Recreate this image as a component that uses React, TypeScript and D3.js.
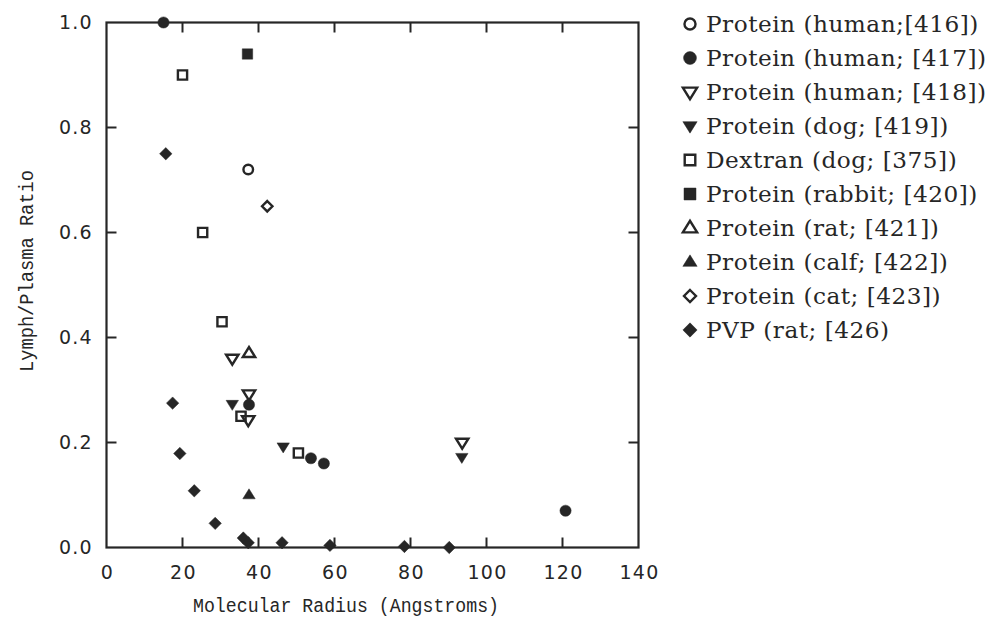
import React from "react";
import * as d3 from "d3";

// ---- data (molecular radius in Å, lymph/plasma ratio) ----
const human416X = [37.3];
const human416Y = [0.72];
const human417X = [15.0, 37.5, 53.8, 57.2, 120.8];
const human417Y = [1.0, 0.272, 0.17, 0.16, 0.07];
const human418X = [33.1, 37.5, 37.3, 93.6];
const human418Y = [0.36, 0.292, 0.243, 0.2];
const dog419X = [33.1, 46.5, 93.5];
const dog419Y = [0.273, 0.192, 0.172];
const dextran375X = [20.0, 25.3, 30.4, 35.4, 50.5];
const dextran375Y = [0.9, 0.6, 0.43, 0.25, 0.18];
const rabbit420X = [37.1];
const rabbit420Y = [0.94];
const rat421X = [37.5];
const rat421Y = [0.37];
const calf422X = [37.5];
const calf422Y = [0.1];
const cat423X = [42.3];
const cat423Y = [0.65];
const pvp426X = [15.6, 17.4, 19.3, 23.1, 28.6, 36.0, 37.3, 46.2, 58.8, 78.4, 90.2];
const pvp426Y = [0.75, 0.275, 0.179, 0.108, 0.046, 0.018, 0.009, 0.009, 0.004, 0.002, 0.0];

const legendLabels = [
  "Protein (human;[416])",
  "Protein (human; [417])",
  "Protein (human; [418])",
  "Protein (dog; [419])",
  "Dextran (dog; [375])",
  "Protein (rabbit; [420])",
  "Protein (rat; [421])",
  "Protein (calf; [422])",
  "Protein (cat; [423])",
  "PVP (rat; [426)",
];

const xTicks = [0, 20, 40, 60, 80, 100, 120, 140];
const yTicks = [0.0, 0.2, 0.4, 0.6, 0.8, 1.0];

type Kind = "circleO" | "circleF" | "triDownO" | "triDownF" | "squareO" | "squareF" | "triUpO" | "triUpF" | "diamondO" | "diamondF";

const series: { kind: Kind; xs: number[]; ys: number[] }[] = [
  { kind: "circleO", xs: human416X, ys: human416Y },
  { kind: "circleF", xs: human417X, ys: human417Y },
  { kind: "triDownO", xs: human418X, ys: human418Y },
  { kind: "triDownF", xs: dog419X, ys: dog419Y },
  { kind: "squareO", xs: dextran375X, ys: dextran375Y },
  { kind: "squareF", xs: rabbit420X, ys: rabbit420Y },
  { kind: "triUpO", xs: rat421X, ys: rat421Y },
  { kind: "triUpF", xs: calf422X, ys: calf422Y },
  { kind: "diamondO", xs: cat423X, ys: cat423Y },
  { kind: "diamondF", xs: pvp426X, ys: pvp426Y },
];

const INK = "#262626";

function Marker({ kind, x, y, s = 1 }: { kind: Kind; x: number; y: number; s?: number }) {
  const open = kind.endsWith("O");
  const fill = open ? "none" : INK;
  const stroke = INK;
  const sw = open ? 2.4 : 0.5;
  let d = "";
  if (kind.startsWith("circle")) {
    const r = (open ? 4.8 : 5.6) * s;
    return <circle cx={x} cy={y} r={r} fill={fill} stroke={stroke} strokeWidth={sw} />;
  } else if (kind.startsWith("square")) {
    const h = (open ? 4.6 : 5.2) * s;
    d = `M${-h},${-h}L${h},${-h}L${h},${h}L${-h},${h}Z`;
  } else if (kind === "triDownO" || kind === "triDownF") {
    const w = 6.2 * s, h1 = 3.8 * s, h2 = 6.2 * s;
    d = `M${-w},${-h1}L${w},${-h1}L0,${h2}Z`;
  } else if (kind.startsWith("triUp")) {
    const w = 6.2 * s, h1 = 3.8 * s, h2 = 6.2 * s;
    d = `M${-w},${h1}L${w},${h1}L0,${-h2}Z`;
  } else {
    const h = (open ? 5.2 : 6.2) * s;
    d = `M0,${-h}L${h},0L0,${h}L${-h},0Z`;
  }
  return <path d={d} transform={`translate(${x},${y})`} fill={fill} stroke={stroke} strokeWidth={sw} strokeLinejoin="miter" />;
}

export default function App() {
  const W = 996, H = 623;
  const x = d3.scaleLinear().domain([0, 140]).range([106.5, 638.5]);
  const y = d3.scaleLinear().domain([0, 1]).range([547.5, 22.5]);
  const [x0, x1] = x.range();
  const [y0, y1] = y.range();
  const tickLen = 10;
  const legendTop = 24;
  const legendStep = 34;

  return (
    <svg width={W} height={H} style={{ position: "absolute", left: 0, top: 0, background: "#ffffff" }}>
      <rect width={W} height={H} fill="#ffffff" />
      {/* frame */}
      <rect x={x0} y={y1} width={x1 - x0} height={y0 - y1} fill="none" stroke={INK} strokeWidth={2.2} />
      {/* x ticks bottom & top */}
      {xTicks.slice(1, -1).map((t) => (
        <g key={"xt" + t}>
          <line x1={x(t)} x2={x(t)} y1={y0} y2={y0 - tickLen} stroke={INK} strokeWidth={2} />
          <line x1={x(t)} x2={x(t)} y1={y1} y2={y1 + tickLen} stroke={INK} strokeWidth={2} />
        </g>
      ))}
      {yTicks.slice(1, -1).map((t) => (
        <g key={"yt" + t}>
          <line x1={x0} x2={x0 + tickLen} y1={y(t)} y2={y(t)} stroke={INK} strokeWidth={2} />
          <line x1={x1} x2={x1 - tickLen} y1={y(t)} y2={y(t)} stroke={INK} strokeWidth={2} />
        </g>
      ))}
      {/* tick labels */}
      {xTicks.map((t) => (
        <text key={"xl" + t} x={x(t) + 1} y={578.5} textAnchor="middle" fontFamily="DejaVu Sans" fontSize={19} letterSpacing={1.3} fill={INK}>
          {d3.format("d")(t)}
        </text>
      ))}
      {yTicks.map((t) => (
        <text key={"yl" + t} x={93} y={y(t)} dy="0.36em" textAnchor="end" fontFamily="DejaVu Sans" fontSize={19} letterSpacing={1.3} fill={INK}>
          {d3.format(".1f")(t)}
        </text>
      ))}
      {/* axis titles */}
      <text x={346} y={612} textAnchor="middle" fontFamily="Liberation Mono" fontSize={20} textLength={306} lengthAdjust="spacingAndGlyphs" fill={INK}>
        Molecular Radius (Angstroms)
      </text>
      <text transform={`translate(33,271) rotate(-90)`} textAnchor="middle" fontFamily="Liberation Mono" fontSize={20} textLength={202} lengthAdjust="spacingAndGlyphs" fill={INK}>
        Lymph/Plasma Ratio
      </text>
      {/* points */}
      {series.map((s, i) =>
        s.xs.map((xv, j) => <Marker key={`p${i}-${j}`} kind={s.kind} x={x(xv)} y={y(s.ys[j])} />)
      )}
      {/* legend */}
      {series.map((s, i) => {
        const cy = legendTop + i * legendStep;
        return (
          <g key={"lg" + i}>
            <Marker kind={s.kind} x={690} y={cy} s={1.15} />
            <text x={706} y={cy} dy="0.35em" fontFamily="DejaVu Serif" fontSize={23.2} letterSpacing={0.5} fill={INK}>
              {legendLabels[i]}
            </text>
          </g>
        );
      })}
    </svg>
  );
}
